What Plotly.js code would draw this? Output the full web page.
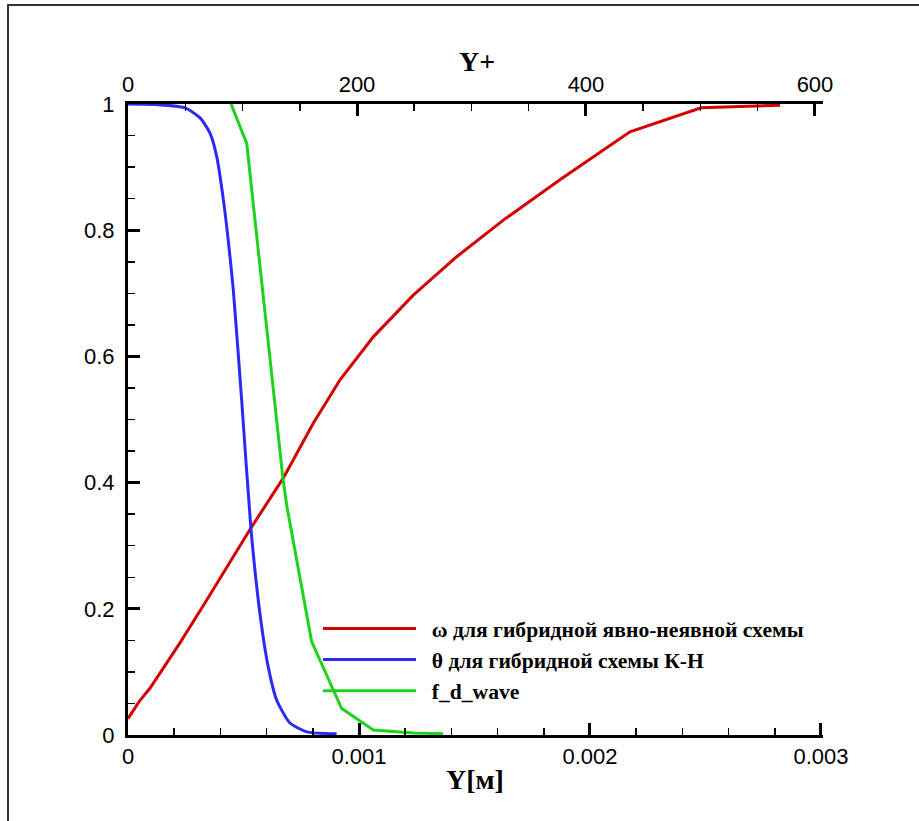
<!DOCTYPE html>
<html>
<head>
<meta charset="utf-8">
<script src="https://cdn.plot.ly/plotly-3.0.1.min.js"></script>
<style>
  html, body { margin:0; padding:0; background:#fff; }
  #wrap { position:relative; width:919px; height:821px; }
  #chart { position:absolute; left:0; top:0; width:919px; height:821px; }
  #frame { position:absolute; left:7px; top:4px; width:912px; height:817px;
           border-left:2px solid #333; border-top:2px solid #333; pointer-events:none; }
</style>
</head>
<body>
<div id="wrap"><div id="chart"></div><div id="frame"></div></div>
<script>
// ---- data ----
const seriesNames = [
  "ω для гибридной явно-неявной схемы",
  "θ для гибридной схемы К-Н",
  "f_d_wave"
];
const omegaX = [0, 0.000052, 0.000095, 0.000225, 0.000341, 0.000532, 0.000672, 0.000802, 0.000918, 0.001062, 0.001235, 0.001423, 0.001625, 0.001870, 0.002173, 0.002481, 0.002823];
const omegaY = [0.026, 0.055, 0.074, 0.146, 0.214, 0.328, 0.407, 0.494, 0.563, 0.631, 0.697, 0.758, 0.816, 0.880, 0.956, 0.994, 0.998];

const thetaX = [0, 0.00013, 0.000247, 0.000312, 0.000355, 0.000384, 0.000413, 0.000434, 0.000456, 0.000492, 0.000532, 0.000571, 0.000607, 0.000644, 0.000701, 0.000774, 0.000903];
const thetaY = [1.0, 0.999, 0.994, 0.978, 0.954, 0.917, 0.848, 0.784, 0.705, 0.531, 0.328, 0.193, 0.108, 0.055, 0.019, 0.005, 0.002];

const fdX = [0.000446, 0.000514, 0.000634, 0.000670, 0.000687, 0.000795, 0.000925, 0.001062, 0.001234, 0.001364];
const fdY = [1.0, 0.9375, 0.531, 0.409, 0.364, 0.148, 0.042, 0.008, 0.003, 0.002];

const xTickVals = [0, 0.001, 0.002, 0.003];
const xTickText = ["0", "0.001", "0.002", "0.003"];
const yTickVals = [0, 0.2, 0.4, 0.6, 0.8, 1];
const yTickText = ["0", "0.2", "0.4", "0.6", "0.8", "1"];
const yPlusTickVals = [0, 200, 400, 600];
const yPlusTickText = ["0", "200", "400", "600"];

// x range slightly past 0.003 so the end tick is drawn (Plotly drops inside ticks at the very edge)
const xMax = 0.0030087;
const yPlusMax = 607.0;

const colors = ["#d40000", "#2a2af5", "#1ed21e"];

const tickFont = {family: "Liberation Sans, Arial, sans-serif", size: 22, color: "#000"};
const titleFont = {family: "Liberation Serif, Times New Roman, serif", size: 28, color: "#000", weight: 700};
const pad = "\u00a0\u00a0";

const traces = [
  {x: omegaX, y: omegaY, name: pad + seriesNames[0], mode: "lines", line: {color: colors[0], width: 3}},
  {x: thetaX, y: thetaY, name: pad + seriesNames[1], mode: "lines", line: {color: colors[1], width: 3, shape: "spline", smoothing: 0.6}},
  {x: fdX, y: fdY, name: pad + seriesNames[2], mode: "lines", line: {color: colors[2], width: 3}},
  // carries the top Y+ axis (no visible marks)
  {x: [0, yPlusMax], y: [null, null], xaxis: "x2", yaxis: "y", mode: "lines", showlegend: false,
   hoverinfo: "skip", line: {color: "rgba(0,0,0,0)", width: 0}}
];

const plotL = 128, plotR = 823, plotT = 104, plotB = 735;
const pw = plotR - plotL, ph = plotB - plotT;

const layout = {
  width: 919, height: 821,
  margin: {l: plotL, r: 919 - plotR, t: plotT, b: 821 - plotB, pad: 0},
  paper_bgcolor: "#fff", plot_bgcolor: "#fff",
  showlegend: true,
  legend: {
    x: (318 - plotL) / pw, y: (plotB - 608) / ph, xanchor: "left", yanchor: "top",
    bgcolor: "rgba(0,0,0,0)", borderwidth: 0,
    itemwidth: 93,
    font: {family: "Liberation Serif, Times New Roman, serif", size: 21.6, color: "#000", weight: 700},
    tracegroupgap: 0
  },
  xaxis: {
    range: [0, xMax], tickvals: xTickVals, ticktext: xTickText,
    ticks: "inside", ticklen: 12, tickwidth: 3, tickcolor: "#000",
    minor: {dtick: 0.0002, tick0: 0, ticks: "inside", ticklen: 7, tickwidth: 1.5, tickcolor: "#000", showgrid: false},
    showline: true, linewidth: 3, linecolor: "#000", mirror: false,
    showgrid: false, zeroline: false, tickfont: tickFont, fixedrange: true
  },
  xaxis2: {
    range: [0, yPlusMax], tickvals: yPlusTickVals, ticktext: yPlusTickText,
    overlaying: "x", side: "top", anchor: "y",
    ticks: "inside", ticklen: 12, tickwidth: 3, tickcolor: "#000",
    minor: {dtick: 50, tick0: 0, ticks: "inside", ticklen: 7, tickwidth: 1.5, tickcolor: "#000", showgrid: false},
    showline: true, linewidth: 3, linecolor: "#000",
    showgrid: false, zeroline: false, tickfont: tickFont, fixedrange: true
  },
  yaxis: {
    range: [0, 1], tickvals: yTickVals, ticktext: yTickText,
    ticks: "inside", ticklen: 12, tickwidth: 3, tickcolor: "#000",
    minor: {dtick: 0.05, tick0: 0, ticks: "inside", ticklen: 7, tickwidth: 1.5, tickcolor: "#000", showgrid: false},
    showline: true, linewidth: 3, linecolor: "#000",
    showgrid: false, zeroline: false, tickfont: tickFont, ticklabelstandoff: 6, fixedrange: true
  },
  annotations: [
    {text: "Y+", xref: "paper", yref: "paper", x: (477 - plotL) / pw, y: (plotB - 62) / ph,
     xanchor: "center", yanchor: "middle", showarrow: false, font: titleFont},
    {text: "Y[м]", xref: "paper", yref: "paper", x: (475 - plotL) / pw, y: (plotB - 779) / ph,
     xanchor: "center", yanchor: "middle", showarrow: false, font: titleFont}
  ]
};

Plotly.newPlot("chart", traces, layout, {displayModeBar: false, staticPlot: true});
</script>
</body>
</html>
